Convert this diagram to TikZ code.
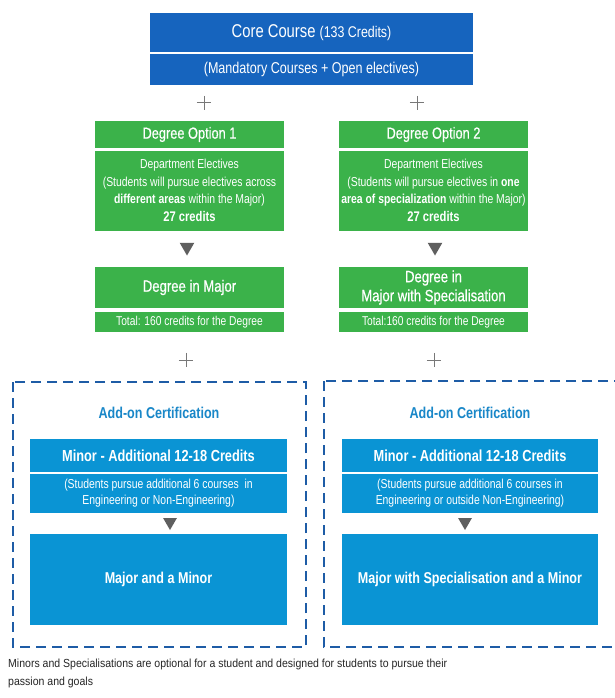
\documentclass[tikz,border=0pt]{standalone}
\usepackage{fontspec}
\setmainfont{Liberation Sans}[FakeStretch=0.8]
\newfontfamily\footfont{Liberation Sans}[FakeStretch=0.9]
\newfontfamily\medfont{Liberation Sans}[FakeStretch=0.8,FakeBold=0.6]
\usetikzlibrary{shapes.geometric}
\definecolor{coreblue}{RGB}{22,100,190}
\definecolor{optgreen}{RGB}{59,178,74}
\definecolor{minorblue}{RGB}{10,148,212}
\definecolor{dashblue}{RGB}{30,92,166}
\definecolor{addonblue}{RGB}{25,135,200}
\definecolor{trigrey}{RGB}{95,95,95}
\definecolor{plusgrey}{RGB}{120,120,120}
\tikzset{
  box/.style={rectangle, inner sep=0pt, text=white, align=center},
  corebox/.style={box, fill=coreblue, minimum width=323pt},
  greenbox/.style={box, fill=optgreen, minimum width=189pt},
  minorbox/.style={box, fill=minorblue, minimum width=257pt},
  downtri/.style={regular polygon, regular polygon sides=3, shape border rotate=180, fill=trigrey, inner sep=0pt, minimum size=17pt},
  plussign/.style={inner sep=0pt, minimum size=14pt},
  dashbox/.style={draw=dashblue, line width=2.6pt, dash pattern=on 10pt off 6pt},
  addon/.style={text=addonblue, font=\fontsize{15.7}{17}\selectfont\bfseries},
  hdrfont/.style={font=\medfont\fontsize{16}{19}\selectfont},
  bodyfont/.style={font=\fontsize{13}{17.5}\selectfont},
  minorbody/.style={font=\fontsize{13}{16}\selectfont},
  bigbold/.style={font=\fontsize{16}{18}\selectfont\bfseries},
}
\begin{document}
\begin{tikzpicture}[x=1pt,y=-1pt]
\useasboundingbox (0,0) rectangle (615,698);
\clip (0,0) rectangle (615,698);
\fill[white] (0,0) rectangle (615,698);

% core
\node[corebox, minimum height=39pt, font=\fontsize{18.5}{20}\selectfont] (coreT) at (311.5,32.5) {Core Course {\fontsize{15.5}{17}\selectfont(133 Credits)}};
\node[corebox, minimum height=31pt, font=\fontsize{15.7}{17}\selectfont] (coreB) at (311.5,69.5) {(Mandatory Courses + Open electives)};

% plus signs
\node[plussign] (p1) at (204,103) {};
\node[plussign] (p2) at (417,103) {};
\node[plussign] (p3) at (186,360) {};
\node[plussign] (p4) at (434,360) {};
\foreach \p in {p1,p2,p3,p4}{
  \draw[plusgrey, line width=1pt] (\p.west) -- (\p.east) (\p.north) -- (\p.south);
}

% option 1
\node[greenbox, minimum height=27pt, hdrfont] (o1h) at (189.5,134.5) {Degree Option 1};
\node[greenbox, minimum height=80pt, bodyfont] (o1b) at (189.5,190.5) {Department Electives\\(Students will pursue electives across\\\textbf{different areas} within the Major)\\{\fontsize{14}{17}\selectfont\bfseries 27 credits}};
\node[downtri] (t1) at (187,247) {};
\node[greenbox, minimum height=41pt, hdrfont, font=\medfont\fontsize{16.4}{19}\selectfont] (m1h) at (189.5,287.5) {Degree in Major};
\node[greenbox, minimum height=20pt, font=\fontsize{12.8}{14}\selectfont] (m1b) at (189.5,322) {Total: 160 credits for the Degree};

% option 2
\node[greenbox, minimum height=27pt, hdrfont] (o2h) at (433.5,134.5) {Degree Option 2};
\node[greenbox, minimum height=80pt, bodyfont] (o2b) at (433.5,190.5) {Department Electives\\(Students will pursue electives in \textbf{one}\\\textbf{area of specialization} within the Major)\\{\fontsize{14}{17}\selectfont\bfseries 27 credits}};
\node[downtri] (t2) at (435,247) {};
\node[greenbox, minimum height=41pt, font=\medfont\fontsize{16.4}{19}\selectfont] (m2h) at (433.5,287.5) {Degree in\\Major with Specialisation};
\node[greenbox, minimum height=20pt, font=\fontsize{12.8}{14}\selectfont] (m2b) at (433.5,322) {Total:160 credits for the Degree};

% dashed boxes
\draw[dashbox] (13,382) rectangle (306,647);
\draw[dashbox] (324,381) rectangle (640,647);

% add-on left
\node[addon] (a1) at (159,413) {Add-on Certification};
\node[minorbox, minimum height=33pt, bigbold] (n1h) at (158.5,455.5) {Minor - Additional 12-18 Credits};
\node[minorbox, minimum height=39pt, minorbody] (n1b) at (158.5,493.5) {(Students pursue additional 6 courses\ \ in\\Engineering or Non-Engineering)};
\node[downtri, minimum size=16pt] (t3) at (170,522) {};
\node[minorbox, minimum height=91pt, font=\fontsize{15.7}{18}\selectfont\bfseries] (j1) at (158.5,579.5) {Major and a Minor};

% add-on right
\node[addon] (a2) at (470,413) {Add-on Certification};
\node[minorbox, minimum width=256pt, minimum height=33pt, bigbold] (n2h) at (470,455.5) {Minor - Additional 12-18 Credits};
\node[minorbox, minimum width=256pt, minimum height=39pt, minorbody] (n2b) at (470,493.5) {(Students pursue additional 6 courses in\\Engineering or outside Non-Engineering)};
\node[downtri, minimum size=16pt] (t4) at (465,522) {};
\node[minorbox, minimum width=256pt, minimum height=91pt, font=\fontsize{15.7}{18}\selectfont\bfseries] (j2) at (470,579.5) {Major with Specialisation and a Minor};

% footer
\node[anchor=north west, align=left, inner sep=0pt, text=black!85, font=\footfont\fontsize{11.7}{18}\selectfont] (foot) at (8,658.5) {Minors and Specialisations are optional for a student and designed for students to pursue their\\passion and goals};
\end{tikzpicture}
\end{document}
